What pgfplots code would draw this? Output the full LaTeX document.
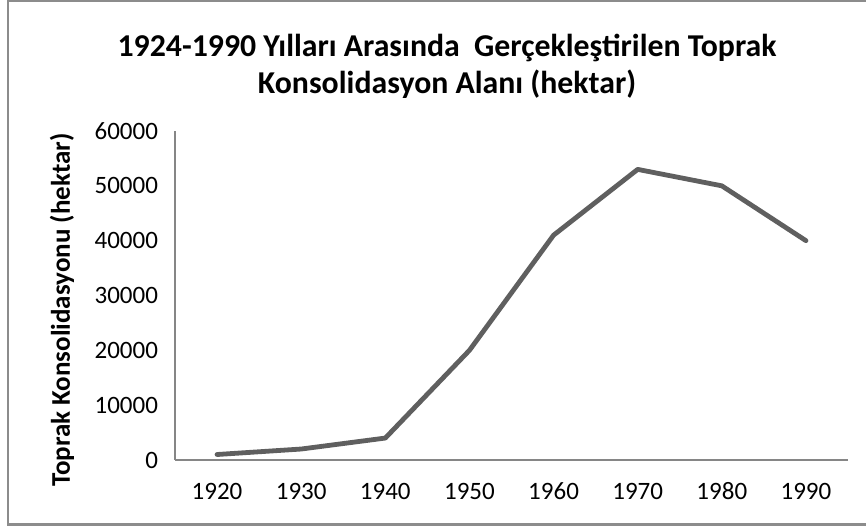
\documentclass[border=0pt]{standalone}
\usepackage{pgfplots}
\pgfplotsset{compat=1.18}
\usepackage{fontspec}
\setmainfont{Carlito}
\definecolor{axgray}{HTML}{868686}
\definecolor{linegray}{HTML}{5F5F5F}
\definecolor{framegray}{HTML}{8C8C8C}
\begin{document}
\begin{tikzpicture}
\useasboundingbox (0,0) rectangle (433pt,264pt);
\begin{scope}
\clip (0,0) rectangle (433pt,264pt);
\draw[framegray, line width=1.3pt] (4pt,1.6pt) rectangle (440pt,263.4pt);
\end{scope}
\node[align=center, font=\fontsize{15.9}{18.5}\selectfont\bfseries] at (223.5pt,231pt)
  {1924-1990 Yılları Arasında\ \ Gerçekleştirilen Toprak\\Konsolidasyon Alanı (hektar)};
\begin{axis}[
  at={(87.5pt,34pt)}, anchor=south west,
  width=336.5pt, height=164.5pt, scale only axis,
  xmin=-0.5, xmax=7.5, ymin=0, ymax=60000,
  xtick={0,...,7},
  xticklabels={1920,1930,1940,1950,1960,1970,1980,1990},
  ytick={0,10000,...,60000},
  scaled y ticks=false,
  /pgf/number format/.cd, 1000 sep={}, assume math mode=true, /pgfplots/.cd,
  axis x line*=bottom, axis y line*=left,
  axis line style={axgray, line width=0.7pt, -},
  major tick length=0pt,
  tick label style={font=\fontsize{12.5}{14}\selectfont, black},
  yticklabel style={xshift=-5pt},
  xticklabel style={text height=8pt, text depth=0pt, anchor=north, yshift=-8pt},
  ylabel={Toprak Konsolidasyonu (hektar)},
  every axis y label/.style={at={(axis description cs:-0.168,0.455)}, rotate=90, anchor=center, font=\fontsize{13.5}{15}\selectfont\bfseries},
  clip=false,
]
\addplot[linegray, line width=2.4pt, line join=round, line cap=round] coordinates {
 (0,1000) (1,2000) (2,4000) (3,20000) (4,41000) (5,53000) (6,50000) (7,40000)
};
\end{axis}
\end{tikzpicture}
\end{document}
